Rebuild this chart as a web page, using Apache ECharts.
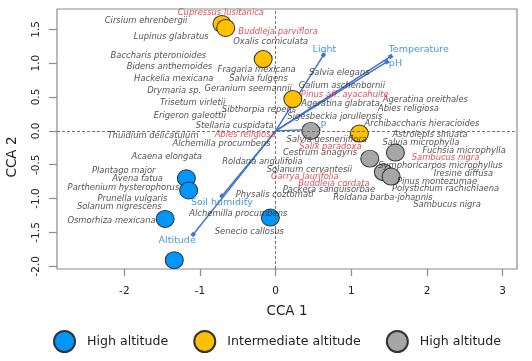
<!DOCTYPE html>
<html>
<head>
<meta charset="utf-8">
<script src="https://cdn.jsdelivr.net/npm/echarts@6/dist/echarts.min.js"></script>
<style>html,body{margin:0;padding:0;background:#fff}#c{width:532px;height:361px}</style>
</head>
<body>
<div id="c"></div>
<script>
const xTicks = [-2, -1, 0, 1, 2, 3];
const yTicks = [-2, -1.5, -1, -0.5, 0, 0.5, 1, 1.5];

const legendLabels = ['High altitude', 'Intermediate altitude', 'High altitude'];
const blueSites = [[-1.18, -0.70], [-1.15, -0.88], [-1.46, -1.30], [-1.34, -1.91], [-0.07, -1.28]];
const yellowSites = [[-0.71, 1.58], [-0.66, 1.52], [-0.165, 1.06], [0.227, 0.47], [1.107, -0.04]];
const graySites = [[0.465, 0.0], [1.244, -0.41], [1.583, -0.32], [1.424, -0.61], [1.526, -0.675]];

const arrowNames = ['Light', 'Temperature', 'pH', 'P', 'Soil humidity', 'Altitude'];
const arrowX = [0.632, 1.52, 1.47, 0.565, -0.71, -1.09];
const arrowY = [1.12, 1.10, 1.02, 0.025, -0.96, -1.53];

const treeSpecies = [
  ['Cupressus lusitanica', -0.724, 1.738],
  ['Buddleja parviflora', 0.033, 1.458],
  ['Pinus aff. ayacahuite', 0.914, 0.532],
  ['Abies religiosa', -0.403, -0.059],
  ['Salix paradoxa', 0.724, -0.232],
  ['Sambucus nigra', 2.246, -0.404],
  ['Garrya laurifolia', 0.385, -0.675],
  ['Buddleja cordata', 0.771, -0.778]
];
const understorySpecies = [
  ['Cirsium ehrenbergii', -1.713, 1.620],
  ['Lupinus glabratus', -1.380, 1.384],
  ['Oxalis corniculata', -0.066, 1.319],
  ['Baccharis pteronioides', -1.550, 1.112],
  ['Bidens anthemoides', -1.404, 0.950],
  ['Fragaria mexicana', -0.251, 0.901],
  ['Salvia fulgens', -0.227, 0.768],
  ['Hackelia mexicana', -1.347, 0.763],
  ['Drymaria sp.', -1.341, 0.595],
  ['Geranium seemannii', -0.363, 0.625],
  ['Salvia elegans', 0.841, 0.852],
  ['Galium aschenbornii', 0.876, 0.665],
  ['Trisetum virletii', -1.096, 0.409],
  ['Sibthorpia repens', -0.220, 0.305],
  ['Ageratina glabrata', 0.857, 0.399],
  ['Ageratina oreithales', 1.979, 0.463],
  ['Abies religiosa', 1.755, 0.325],
  ['Erigeron galeottii', -1.134, 0.217],
  ['Sigesbeckia jorullensis', 0.782, 0.212],
  ['Stellaria cuspidata', -0.542, 0.079],
  ['Archibaccharis hieracioides', 1.933, 0.108],
  ['Thuidium delicatulum', -1.621, -0.069],
  ['Alchemilla procumbens', -0.716, -0.192],
  ['Salvia gesneriiflora', 0.676, -0.133],
  ['Astrolepis sinuata', 2.041, -0.059],
  ['Salvia microphylla', 1.920, -0.182],
  ['Fuchsia microphylla', 2.492, -0.295],
  ['Cestrum anagyris', 0.586, -0.325],
  ['Acaena elongata', -1.440, -0.379],
  ['Roldana angulifolia', -0.176, -0.453],
  ['Symphoricarpos microphyllus', 2.177, -0.512],
  ['Solanum cervantesii', 0.445, -0.576],
  ['Iresine diffusa', 2.481, -0.630],
  ['Plantago major', -2.008, -0.586],
  ['Avena fatua', -1.826, -0.714],
  ['Pinus montezumae', 2.133, -0.753],
  ['Parthenium hysterophorus', -2.012, -0.842],
  ['Polystichum rachichlaena', 2.246, -0.857],
  ['Packera sanguisorbae', 0.704, -0.876],
  ['Physalis coztomatl', -0.013, -0.950],
  ['Roldana barba-johannis', 1.418, -0.985],
  ['Prunella vulgaris', -1.892, -1.000],
  ['Sambucus nigra', 2.266, -1.088],
  ['Solanum nigrescens', -2.067, -1.123],
  ['Alchemilla procumbens', -0.493, -1.231],
  ['Osmorhiza mexicana', -2.169, -1.325],
  ['Senecio callosus', -0.348, -1.492]
];

// label placement styles for the vector names (pixels)
const arrowLabelStyle = {
  'Light': { align: 'center', offset: [1, -6] },
  'Temperature': { align: 'left', offset: [-2, -7] },
  'pH': { align: 'left', offset: [2, 2] },
  'P': { align: 'center', offset: [5, -4] },
  'Soil humidity': { align: 'center', offset: [0, 7] },
  'Altitude': { align: 'center', offset: [-16, 6] }
};

const FONT = 'DejaVu Sans';
const chart = echarts.init(document.getElementById('c'), null, { renderer: 'canvas' });

function speciesSeries(list, color) {
  return {
    type: 'scatter', z: 6, silent: true, symbolSize: 1,
    itemStyle: { color: 'rgba(0,0,0,0)' },
    data: list.map(s => ({ name: s[0], value: [s[1], s[2]] })),
    label: {
      show: true, position: 'inside', formatter: p => p.name,
      fontFamily: FONT, fontStyle: 'italic', fontSize: 8.4, color: color
    },
    labelLayout: { hideOverlap: false }
  };
}

function siteSeries(name, data, color) {
  return {
    name: name, type: 'scatter', z: 4, symbol: 'circle', symbolSize: [18, 17],
    itemStyle: { color: color, borderColor: '#333333', borderWidth: 1, opacity: 1 },
    data: data
  };
}

const option = {
  animation: false,
  backgroundColor: '#fff',
  grid: { left: 57, right: 15, top: 9, bottom: 92, show: true, borderColor: '#8c8c8c', borderWidth: 1.2, containLabel: false, outerBoundsMode: 'none' },
  xAxis: {
    type: 'value', min: -2.89, max: 3.19,
    name: 'CCA 1', nameLocation: 'middle', nameGap: 35,
    nameTextStyle: { fontFamily: FONT, fontSize: 13.5, color: '#222' },
    axisLine: { show: false, onZero: false },
    splitLine: { show: false },
    axisTick: { show: true, length: 7, inside: false, lineStyle: { color: '#8c8c8c', width: 1.2 }, customValues: xTicks },
    axisLabel: { fontFamily: FONT, fontSize: 10.5, color: '#222', margin: 17, customValues: xTicks, formatter: v => String(v) }
  },
  yAxis: {
    type: 'value', min: -2.04, max: 1.80,
    name: 'CCA 2', nameLocation: 'middle', nameGap: 38, nameRotate: 90,
    nameTextStyle: { fontFamily: FONT, fontSize: 13.5, color: '#222', padding: [0, 36, 0, 0] },
    axisLine: { show: false, onZero: false },
    splitLine: { show: false },
    axisTick: { show: true, length: 8, inside: false, lineStyle: { color: '#8c8c8c', width: 1.2 }, customValues: yTicks },
    axisLabel: { fontFamily: FONT, fontSize: 10.5, color: '#222', margin: 15, rotate: 90, customValues: yTicks, formatter: v => v.toFixed(1) }
  },
  legend: {
    left: 48, top: 325, itemWidth: 23, itemHeight: 21, itemGap: 25, icon: 'circle',
    data: ['g1', 'g2', 'g3'],
    formatter: n => legendLabels[['g1', 'g2', 'g3'].indexOf(n)],
    textStyle: { fontFamily: FONT, fontSize: 12.6, color: '#222', padding: [0, 0, 0, 6] }
  },
  series: [
    {
      type: 'scatter', data: [], silent: true, z: 1,
      markLine: {
        silent: true, symbol: 'none', label: { show: false },
        lineStyle: { color: '#666', type: [3, 2], width: 0.9 },
        data: [{ xAxis: 0 }, { yAxis: 0 }]
      }
    },
    {
      type: 'lines', coordinateSystem: 'cartesian2d', z: 3, silent: true,
      symbol: ['none', 'rect'], symbolSize: 4,
      lineStyle: { color: '#4474cc', width: 1.5, opacity: 1 },
      data: arrowNames.map((n, i) => ({ coords: [[0, 0], [arrowX[i], arrowY[i]]] }))
    },
    siteSeries('g1', blueSites, '#0096ff'),
    siteSeries('g2', yellowSites, '#ffc000'),
    siteSeries('g3', graySites, '#a6a6a6'),
    speciesSeries(understorySpecies, '#1e1e1e'),
    speciesSeries(treeSpecies, '#dc1f2a'),
    {
      type: 'scatter', z: 7, silent: true, symbolSize: 1,
      itemStyle: { color: 'rgba(0,0,0,0)' },
      data: arrowNames.map((n, i) => ({
        name: n, value: [arrowX[i], arrowY[i]],
        label: { align: arrowLabelStyle[n].align, offset: arrowLabelStyle[n].offset }
      })),
      label: { show: true, position: 'inside', formatter: p => p.name, fontFamily: FONT, fontSize: 9.5, color: '#1b7cc6' }
    }
  ]
};
chart.setOption(option);
</script>
</body>
</html>
